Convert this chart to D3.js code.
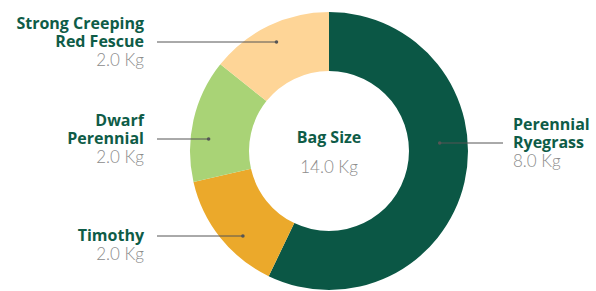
<!DOCTYPE html>
<html>
<head>
<meta charset="utf-8">
<script src="https://cdn.jsdelivr.net/npm/d3@7"></script>
<style>
  body { margin: 0; background: #fff; }
  svg { display: block; font-family: "Open Sans", Lato, sans-serif; }
  .val { font-family: Lato, "Open Sans", sans-serif; font-weight: 300; fill: #8c8c8c; }
  .name { font-weight: 700; fill: #0e5c47; }
</style>
</head>
<body>
<div id="chart"></div>
<script>
// data
var names = [["Perennial", "Ryegrass"], ["Timothy"], ["Dwarf", "Perennial"], ["Strong Creeping", "Red Fescue"]];
var values = [8.0, 2.0, 2.0, 2.0];
var colors = ["#0b5745", "#eba92b", "#a9d376", "#fed597"];
var centerTitle = "Bag Size";
var unit = "Kg";

var width = 596, height = 291;
var cx = 329, cy = 151;
var outerR = 139, innerR = 80;

var svg = d3.select("#chart")
  .append("svg")
  .attr("width", width)
  .attr("height", height);

var g = svg.append("g")
  .attr("transform", "translate(" + cx + "," + cy + ")");

var pie = d3.pie().sort(null).value(function(d) { return d; });
var arcs = pie(values);

var arc = d3.arc()
  .innerRadius(innerR)
  .outerRadius(outerR);

g.selectAll("path.slice")
  .data(arcs)
  .enter()
  .append("path")
  .attr("class", "slice")
  .attr("d", arc)
  .style("fill", function(d, i) { return colors[i]; });

// center text
var total = d3.sum(values);
g.append("text")
  .attr("class", "name")
  .attr("text-anchor", "middle")
  .attr("y", -8)
  .style("font-size", "16px")
  .text(centerTitle);
g.append("text")
  .attr("class", "val")
  .attr("text-anchor", "middle")
  .attr("y", 22)
  .style("font-size", "17px")
  .text(total.toFixed(1) + " " + unit);

// labels: slices whose middle is on the left go to the left column
var mid = function(d) { return (d.startAngle + d.endAngle) / 2; };
var leftIdx = arcs.map(function(d, i) { return i; })
  .filter(function(i) { return mid(arcs[i]) > Math.PI; })
  .reverse();  // top to bottom

var leftY = d3.scalePoint()
  .domain(leftIdx)
  .range([-109, 85]);

arcs.forEach(function(d, i) {
  var left = mid(d) > Math.PI;
  var ly = left ? leftY(i) : -8;
  var dotR = left ? 121 : 111;
  var dx = Math.sqrt(dotR * dotR - ly * ly) * (left ? -1 : 1);
  var x2 = left ? -172 : 174;
  var tx = left ? -185 : 184;

  g.append("line")
    .attr("x1", dx).attr("y1", ly)
    .attr("x2", x2).attr("y2", ly)
    .style("stroke", "#555")
    .style("stroke-width", 1);
  g.append("circle")
    .attr("cx", dx).attr("cy", ly)
    .attr("r", 1.8)
    .style("fill", "#555");

  var lines = names[i];
  var t = g.append("text")
    .attr("text-anchor", left ? "end" : "start");
  lines.forEach(function(s, k) {
    t.append("tspan")
      .attr("class", "name")
      .attr("x", tx)
      .attr("y", ly + 5 - (lines.length - 1 - k) * 18)
      .style("font-size", "16px")
      .text(s);
  });
  t.append("tspan")
    .attr("class", "val")
    .attr("x", tx)
    .attr("y", ly + 24)
    .style("font-size", "17px")
    .text(values[i].toFixed(1) + " " + unit);
});
</script>
</body>
</html>
